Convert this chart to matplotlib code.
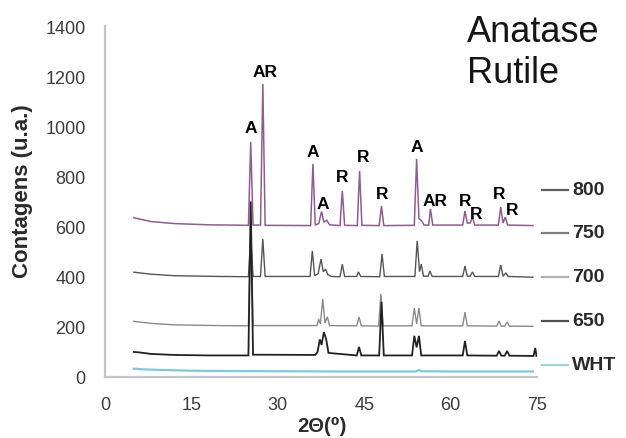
import matplotlib
matplotlib.use("Agg")
import matplotlib.pyplot as plt
from matplotlib.lines import Line2D

plt.rcParams['font.family'] = ['Liberation Sans', 'DejaVu Sans']

# ---------------- data ----------------
series_names = ['800', '750', '700', '650', 'WHT']
series_colors = ['#8e5f8e', '#555555', '#8a8a8a', '#222222', '#7ccbdc']
legend_colors = ['#606060', '#808080', '#b0b0b0', '#505050', '#9fd3e0']

x_800 = [5, 8, 12, 18, 24.9, 25.3, 25.7, 27.0, 27.4, 27.8, 35.7, 36.1, 36.5, 37.1, 37.6, 38.0, 38.5,
         39.0, 40.8, 41.2, 41.6, 43.8, 44.2, 44.6, 47.6, 48.0, 48.4, 53.7, 54.1, 54.5, 55.0, 55.4,
         56.2, 56.5, 56.9, 62.1, 62.5, 62.9, 63.4, 63.8, 64.2, 68.3, 68.7, 69.1, 69.5, 69.9, 74.3]
y_800 = [635, 620, 612, 607, 605, 937, 606, 606, 1169, 605, 604, 850, 606, 612, 660, 618, 625,
         607, 604, 742, 605, 604, 822, 605, 604, 682, 604, 605, 870, 632, 622, 606,
         606, 670, 606, 606, 662, 614, 614, 638, 606, 606, 678, 614, 638, 606, 604]

x_750 = [5, 8, 12, 20, 24.9, 25.3, 25.7, 27.0, 27.4, 27.8, 35.6, 36.0, 36.4, 37.0, 37.5, 37.9, 38.3,
         38.7, 39.3, 40.8, 41.2, 41.6, 43.7, 44.0, 44.4, 47.7, 48.1, 48.5, 53.8, 54.2, 54.6, 54.9,
         55.3, 56.1, 56.4, 56.8, 62.1, 62.5, 62.9, 63.4, 63.8, 64.2, 68.3, 68.7, 69.1, 69.6, 70.0, 74.3]
y_750 = [418, 410, 404, 401, 400, 560, 401, 401, 550, 401, 401, 503, 404, 412, 470, 420, 430,
         408, 401, 400, 450, 401, 401, 419, 401, 400, 491, 401, 401, 543, 420, 450,
         402, 402, 423, 401, 401, 443, 402, 402, 419, 401, 401, 447, 402, 415, 401, 398]

x_700 = [5, 8, 12, 20, 24.9, 25.3, 25.7, 36.8, 37.1, 37.4, 37.8, 38.2, 38.6, 39.0, 43.7, 44.1, 44.5,
         47.5, 47.9, 48.3, 53.3, 53.7, 54.1, 54.5, 54.9, 62.1, 62.5, 62.9, 68.0, 68.4, 68.8,
         69.4, 69.8, 70.2, 74.3]
y_700 = [222, 214, 208, 205, 204, 600, 205, 205, 230, 212, 311, 215, 240, 205, 204, 239, 204,
         203, 331, 204, 204, 275, 212, 275, 204, 204, 259, 204, 203, 223, 203,
         203, 219, 203, 202]

x_650 = [5, 6, 8, 12, 18, 24.9, 25.3, 25.7, 36.5, 36.9, 37.3, 37.6, 38.0, 38.4, 38.8, 43.7, 44.1,
         44.5, 47.6, 48.0, 48.4, 53.3, 53.7, 54.1, 54.5, 54.9, 62.1, 62.5, 62.9, 68.0, 68.4,
         68.8, 69.4, 69.8, 70.2, 74.4, 74.7, 74.9]
y_650 = [100, 98, 92, 88, 86, 86, 700, 89, 88, 100, 150, 128, 179, 150, 96, 86, 120,
         86, 86, 300, 86, 86, 164, 118, 164, 86, 86, 144, 86, 85, 104,
         85, 85, 104, 85, 84, 116, 84]

x_wht = [5, 7, 10, 15, 20, 30, 40, 50, 54.0, 54.5, 55.0, 60, 70, 74.3]
y_wht = [33, 30, 28, 25, 24, 23, 22, 22, 22, 28, 23, 22, 22, 22]

peak_labels = ['A', 'AR', 'A', 'A', 'R', 'R', 'R', 'A', 'AR', 'R', 'R', 'R', 'R']
peak_label_x = [25.3, 27.8, 36.1, 37.8, 41.1, 44.8, 48.1, 54.2, 57.3, 62.6, 64.4, 68.5, 70.6]
peak_label_y = [997, 1220, 901, 694, 798, 881, 730, 921, 702, 704, 654, 732, 668]

x_ticks = [0, 15, 30, 45, 60, 75]
y_ticks = [0, 200, 400, 600, 800, 1000, 1200, 1400]

title_lines = ['Anatase', 'Rutile']

# ---------------- figure ----------------
fig = plt.figure(figsize=(6.26, 4.39), dpi=100)
ax = fig.add_axes([105 / 626, 1 - 378 / 439, 432 / 626, 351 / 439])

xs = [x_800, x_750, x_700, x_650, x_wht]
ys = [y_800, y_750, y_700, y_650, y_wht]
lws = [1.1, 1.0, 1.0, 1.3, 1.6]
for xv, yv, c, lw in zip(xs, ys, series_colors, lws):
    ax.plot(xv, yv, color=c, lw=lw, solid_joinstyle='miter')

for lab, px, py in zip(peak_labels, peak_label_x, peak_label_y):
    ax.text(px, py, lab, ha='center', va='center', fontsize=12.5, fontweight='bold', color='black')

ax.set_xlim(0, 75)
ax.set_ylim(0, 1400)
ax.set_xticks(x_ticks)
ax.set_yticks(y_ticks)
ax.tick_params(length=0, labelsize=13, labelcolor='#3c3c3c', pad=14)
for s in ['top', 'right']:
    ax.spines[s].set_visible(False)
for s in ['left', 'bottom']:
    ax.spines[s].set_color('#c4c4c4')
    ax.spines[s].set_linewidth(1.6)

fig.text(23 / 626, 1 - 191 / 439, 'Contagens (u.a.)', rotation=90, ha='center', va='center',
         fontsize=16, fontweight='bold', color='#2a2a2a')
fig.text(322 / 626, 1 - 427 / 439, '2Θ(⁰)', ha='center', va='center',
         fontsize=14.5, fontweight='bold', color='#2a2a2a')

# legend-like labels on the right
leg_y = [191, 234, 278, 322, 366]
for name, c, yy in zip(series_names, legend_colors, leg_y):
    yf = 1 - yy / 439
    fig.add_artist(Line2D([542 / 626, 568 / 626], [yf, yf], color=c, lw=1.6))
    fig.text(572 / 626, yf, name, ha='left', va='center', fontsize=14, fontweight='bold', color='#2a2a2a')

for line, base in zip(title_lines, [42, 83]):
    fig.text(467 / 626, 1 - base / 439, line, ha='left', va='baseline', fontsize=26,
             color='#151515')

fig.savefig('out.png', dpi=100)
